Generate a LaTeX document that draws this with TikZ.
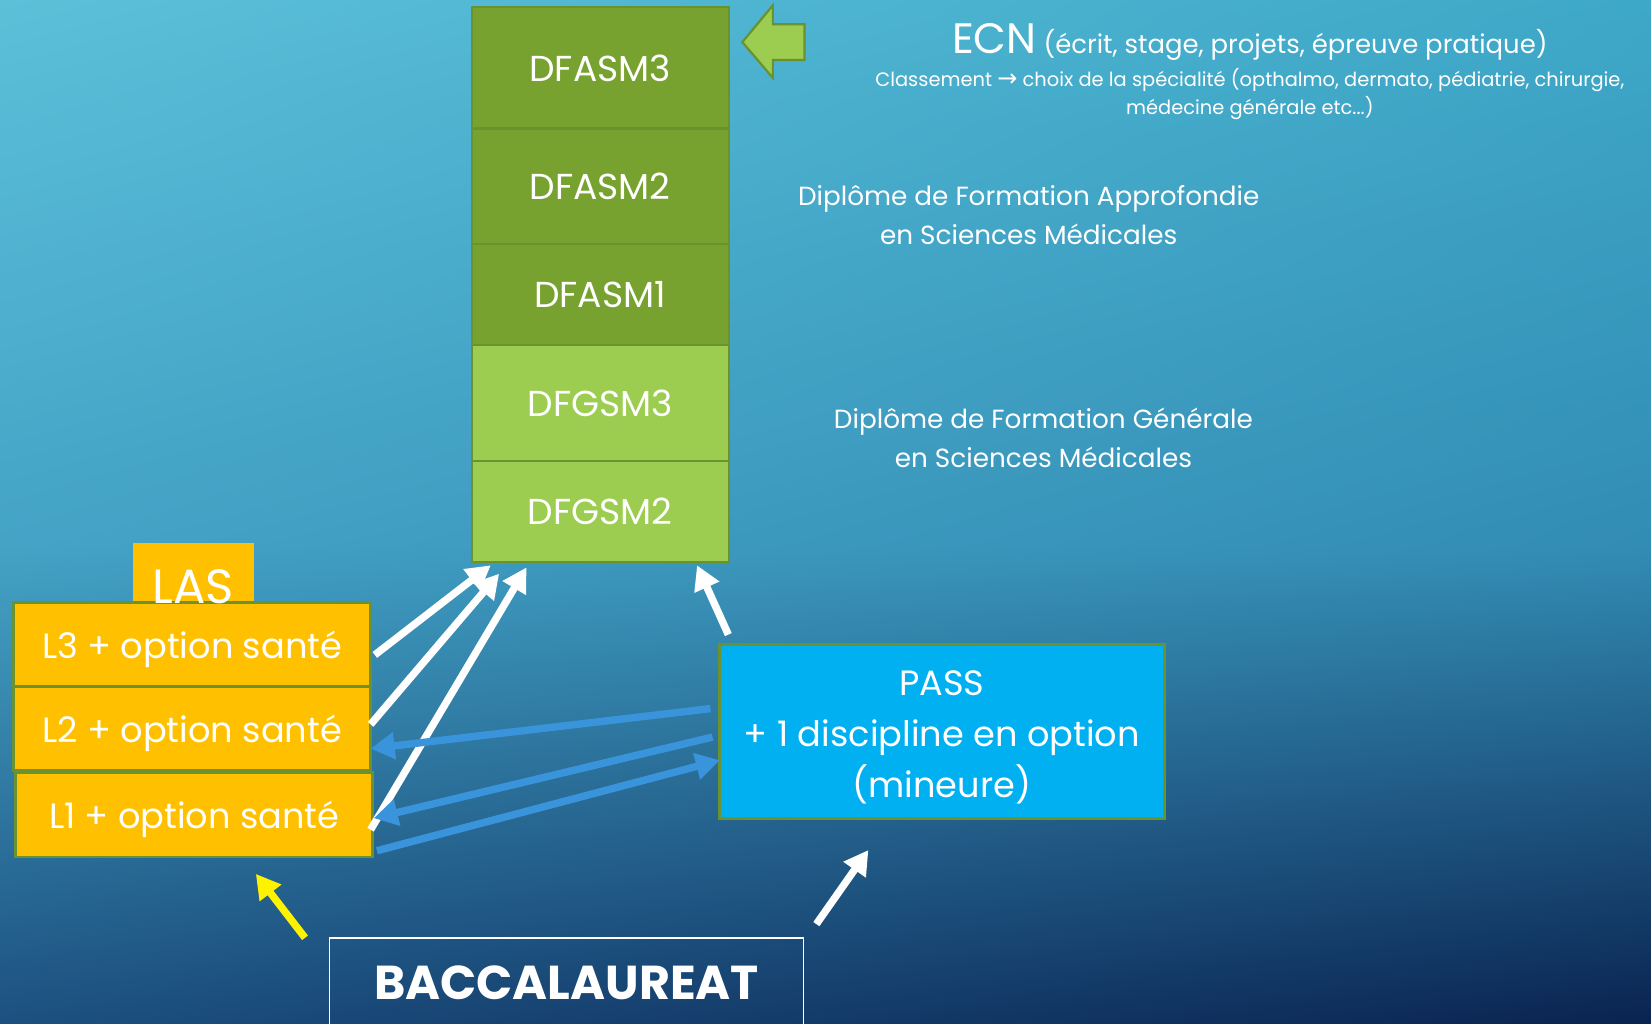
\documentclass[tikz,border=0pt]{standalone}
\usepackage{fontspec}
\setmainfont{Poppins}
\newfontfamily\symfont{DejaVu Sans}
\usepackage{tikz}
\definecolor{bgtopleft}{RGB}{92, 192, 217}
\definecolor{bgtopright}{RGB}{62, 168, 200}
\definecolor{bgmidleft}{RGB}{68, 163, 198}
\definecolor{bgmidright}{RGB}{50, 140, 180}
\definecolor{bgbotleft}{RGB}{28, 80, 128}
\definecolor{bgbotright}{RGB}{10, 35, 80}
\definecolor{darkgreen}{RGB}{119, 162, 47}
\definecolor{lightgreen}{RGB}{156, 204, 80}
\definecolor{greenline}{RGB}{106, 146, 46}
\definecolor{lasorange}{RGB}{255, 192, 0}
\definecolor{passblue}{RGB}{0, 176, 240}
\definecolor{arrowblue}{RGB}{58, 148, 219}
\usetikzlibrary{arrows.meta, positioning, calc, shadings}

\begin{document}
\begin{tikzpicture}[
    x=0.02cm, y=-0.02cm,
    yearbox/.style={rectangle, draw=greenline, line width=1.2pt, minimum width=4.88cm, inner sep=0pt, outer sep=0pt, text=white, font=\fontsize{19.5}{22}\selectfont},
    lbox/.style={rectangle, draw=greenline, line width=1.5pt, fill=lasorange, minimum width=6.78cm, minimum height=1.6cm, inner sep=0pt, outer sep=0pt, text depth=0pt, text=white, font=\fontsize{19}{22}\selectfont},
    passbox/.style={rectangle, draw=greenline, line width=1.5pt, fill=passblue, minimum width=8.46cm, minimum height=3.3cm, align=center, text=white, font=\fontsize{19}{27.5}\selectfont},
    infotext/.style={text=white, align=center, font=\fontsize{14.2}{21}\selectfont},
    whitearrow/.style={-{Triangle[length=13pt, width=14pt]}, line width=4pt, white},
    bluearrow/.style={-{Triangle[length=13pt, width=14pt]}, line width=4pt, arrowblue},
    yellowarrow/.style={-{Triangle[length=13pt, width=14pt]}, line width=4pt, yellow}
]
    \useasboundingbox (0,0) rectangle (1568,972);
    \shade[upper left=bgtopleft, upper right=bgtopright, lower left=bgmidleft, lower right=bgmidright] (0,0) rectangle (1568,520);
    \shade[upper left=bgmidleft, upper right=bgmidright, lower left=bgbotleft, lower right=bgbotright] (0,519) rectangle (1568,972);

    % years of the second and third cycle
    \node[yearbox, fill=darkgreen, minimum height=2.3cm] (dfasm3) at (570,64.5) {DFASM3};
    \node[yearbox, fill=darkgreen, minimum height=2.2cm, below=0pt of dfasm3] (dfasm2) {DFASM2};
    \node[yearbox, fill=darkgreen, minimum height=1.92cm, below=0pt of dfasm2] (dfasm1) {DFASM1};
    \node[yearbox, fill=lightgreen, minimum height=2.2cm, below=0pt of dfasm1] (dfgsm3) {DFGSM3};
    \node[yearbox, fill=lightgreen, minimum height=1.92cm, below=0pt of dfgsm3] (dfgsm2) {DFGSM2};

    \filldraw[fill=lightgreen, draw=greenline, line width=1.2pt] (705,40) -- (734,5) -- (734,23) -- (764,23) -- (764,57) -- (734,57) -- (734,74) -- cycle;

    \node[text=white, font=\fontsize{14}{18}\selectfont] (ecn) at (1187,40) {{\fontsize{23}{26}\selectfont ECN} (écrit, stage, projets, épreuve pratique)};
    \node[text=white, align=center, font=\fontsize{10.5}{15.3}\selectfont, below=-3pt of ecn] (classement) {Classement {\symfont\fontsize{13}{15}\selectfont→} choix de la spécialité (opthalmo, dermato, pédiatrie, chirurgie,\\médecine générale etc...)};
    \node[infotext] (dfa) at (977,204) {Diplôme de Formation Approfondie\\en Sciences Médicales};
    \node[infotext] (dfg) at (991,416) {Diplôme de Formation Générale\\en Sciences Médicales};

    % LAS
    \fill[lasorange] (126,516) rectangle (241,575);
    \node[lbox] (l3) at (182.5,612) {L3 + option santé};
    \node[lbox, below=0pt of l3] (l2) {L2 + option santé};
    \node[lbox] (l1) at (184.5,774) {L1 + option santé};
    \node[text=white, font=\fontsize{26}{30}\selectfont] (las) at (183.5,557) {LAS};

    % PASS
    \node[passbox] (pass) at (894.5,694.5) {\rule{0pt}{20pt}PASS\\+ 1 discipline en option\\(mineure)};

    % bac
    \node[minimum width=9cm, minimum height=1.68cm, text=white, font=\bfseries\fontsize{25.7}{30}\selectfont] (bac) at (538,933) {BACCALAUREAT};
    \draw[white, line width=0.8pt] (bac.south west) |- (bac.north east) -- (bac.south east);

    \draw[whitearrow] ($(l3.east)+(4,10)$) -- ($(dfgsm2.south west)+(18,3)$);
    \draw[whitearrow] ($(l2.east)+(0,-4)$) -- ($(dfgsm2.south west)+(26,11)$);
    \draw[whitearrow] ($(l1.east)+(-2,14)$) -- ($(dfgsm2.south west)+(52,5)$);
    \draw[whitearrow] ($(pass.north west)+(10,-8)$) -- ($(dfgsm2.south east)+(-30,3)$);

    \draw[bluearrow] ($(pass.west)+(-7,-21.5)$) -- ($(l2.east)+(0,19)$);
    \draw[bluearrow] ($(pass.west)+(-5,5.5)$) -- ($(l1.east)+(1,3)$);
    \draw[bluearrow] ($(l1.east)+(4,34)$) -- ($(pass.west)+(2,27.5)$);

    \draw[yellowarrow] ($(bac.north west)+(-23,0)$) -- ($(l1.south)+(58.5,16)$);
    \draw[whitearrow] ($(bac.north east)+(12,-13)$) -- ($(pass.south west)+(143,29)$);
\end{tikzpicture}
\end{document}
